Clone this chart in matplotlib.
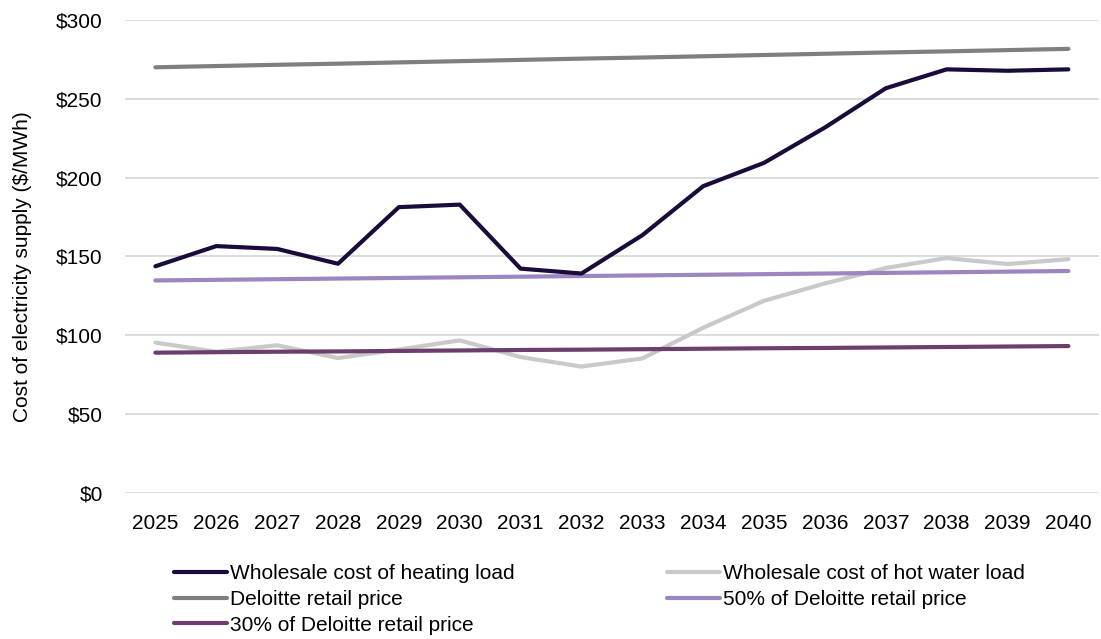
import matplotlib.pyplot as plt
import numpy as np

plt.rcParams['font.family'] = ['Liberation Sans', 'DejaVu Sans']

# Данные (читаются с графика)
years = ['2025', '2026', '2027', '2028', '2029', '2030', '2031', '2032',
         '2033', '2034', '2035', '2036', '2037', '2038', '2039', '2040']
heating = [143.8, 156.6, 154.8, 145.4, 181.3, 182.9, 142.3, 139.2,
           163.5, 194.6, 209.4, 231.8, 256.7, 268.7, 267.8, 268.7]
hot_water = [95.4, 89.6, 93.7, 85.6, 91.0, 96.8, 86.2, 80.2,
             85.3, 104.8, 121.9, 132.9, 142.7, 149.0, 145.2, 148.3]
retail = [270.0, 270.8, 271.6, 272.3, 273.1, 273.9, 274.7, 275.5,
          276.2, 277.0, 277.8, 278.6, 279.4, 280.1, 280.9, 281.7]
retail_50 = [134.8, 135.2, 135.6, 136.0, 136.4, 136.8, 137.2, 137.6,
             138.0, 138.4, 138.8, 139.2, 139.6, 140.0, 140.4, 140.8]
retail_30 = [89.0, 89.3, 89.6, 89.8, 90.1, 90.4, 90.7, 90.9,
             91.2, 91.5, 91.8, 92.0, 92.3, 92.6, 92.9, 93.2]
y_ticks = [0, 50, 100, 150, 200, 250, 300]

fig = plt.figure(figsize=(11.01, 6.39), dpi=100)
ax = fig.add_axes([0.1135, 0.2285, 0.8845, 0.7402])

fs = 15
x = np.arange(len(years))
lw = 3.0
l_heat, = ax.plot(x, heating, color='#1a0b3b', lw=lw, solid_capstyle='round', zorder=5,
                  label='Wholesale cost of heating load')
l_hot, = ax.plot(x, hot_water, color='#c9c9c9', lw=lw, solid_capstyle='round', zorder=3,
                 label='Wholesale cost of hot water load')
l_ret, = ax.plot(x, retail, color='#7f7f7f', lw=lw, solid_capstyle='round', zorder=4,
                 label='Deloitte retail price')
l_50, = ax.plot(x, retail_50, color='#9d85bf', lw=lw, solid_capstyle='round', zorder=4,
                label='50% of Deloitte retail price')
l_30, = ax.plot(x, retail_30, color='#6b3f6c', lw=lw, solid_capstyle='round', zorder=4,
                label='30% of Deloitte retail price')

ax.set_xlim(-0.5, len(years) - 0.5)
ax.set_ylim(0, 300)
ax.set_xticks(x)
ax.set_xticklabels(years)
ax.set_yticks(y_ticks)
ax.set_yticklabels(['$' + str(v) for v in y_ticks])
ax.tick_params(axis='both', length=0, labelsize=fs)
ax.tick_params(axis='y', pad=16)
ax.tick_params(axis='x', pad=15)
ax.grid(axis='y', color='#d9d9d9', lw=1.3)
ax.set_axisbelow(True)
for s in ax.spines.values():
    s.set_visible(False)

fig.text(0.02, 0.582, 'Cost of electricity supply ($/MWh)', rotation=90,
         va='center', ha='center', fontsize=fs)

# порядок по столбцам, чтобы строки совпадали с оригиналом
handles = [l_heat, l_ret, l_30, l_hot, l_50]
fig.legend(handles=handles, labels=[h.get_label() for h in handles],
           ncol=2, loc='upper left', bbox_to_anchor=(0.158, 0.117),
           frameon=False, fontsize=fs, handlelength=2.55, handletextpad=0.15,
           labelspacing=0.32, columnspacing=7.3, borderpad=0, borderaxespad=0)

fig.savefig('out.png', dpi=100)
